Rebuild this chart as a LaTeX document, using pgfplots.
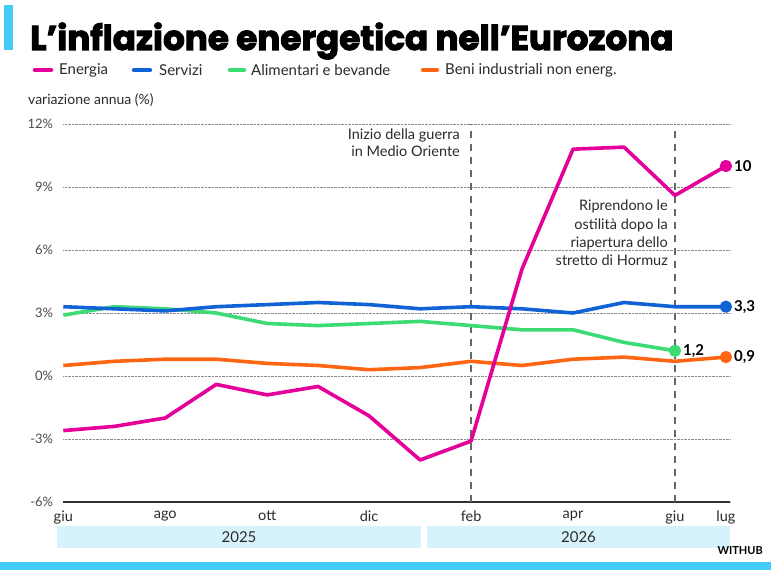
\documentclass[border=0pt]{standalone}
\usepackage{pgfplots}
\pgfplotsset{compat=1.18}
\usepackage{fontspec}
\setmainfont{Lato}
\newfontfamily\titlefont{Poppins}[BoldFeatures={FakeBold=3}]
\definecolor{energia}{HTML}{E5009A}
\definecolor{servizi}{HTML}{1163D5}
\definecolor{alim}{HTML}{3DDB74}
\definecolor{beni}{HTML}{FF6614}
\definecolor{cyanbar}{HTML}{44CBF8}
\definecolor{band}{HTML}{D6F3FC}
\definecolor{dashc}{HTML}{5E6B67}
\definecolor{txt}{HTML}{2B2B2B}
\begin{document}
\begin{tikzpicture}[x=1pt,y=1pt]
\path[use as bounding box, fill=white] (0,0) rectangle (771,582);
\fill[cyanbar] (4,532) rectangle (13,577);
\fill[cyanbar] (0,12) rectangle (771,20);
\node[anchor=base west, inner sep=0pt, font=\titlefont\bfseries\fontsize{34.2}{37}\selectfont] at (30,532) {L’inflazione energetica nell’Eurozona};
% legend
\begin{scope}[line width=4.5pt, line cap=round]
\draw[energia] (35,512) -- (51,512);
\draw[servizi] (134,512) -- (150,512);
\draw[alim] (230,512) -- (244,512);
\draw[beni] (423,512) -- (437,512);
\end{scope}
\begin{scope}[every node/.style={anchor=west, inner sep=0pt, text=txt, font=\fontsize{15}{17}\selectfont}]
\node at (59,512) {Energia};
\node at (159,512) {Servizi};
\node at (251,512) {Alimentari e bevande};
\node at (445,512) {Beni industriali non energ.};
\node[font=\fontsize{14}{16}\selectfont] at (28,482) {variazione annua (\%)};
\end{scope}
\begin{axis}[
  at={(63.3pt,80pt)}, anchor=south west, scale only axis,
  width=666.7pt, height=378pt,
  xmin=0, xmax=13.08, ymin=-6, ymax=12,
  axis line style={draw=none},
  major tick length=0pt,
  xtick={0,2,4,6,8,10,12,13},
  xticklabels={giu,ago,ott,dic,feb,apr,giu,lug},
  ytick={-6,-3,0,3,6,9,12},
  yticklabels={-6\%,-3\%,0\%,3\%,6\%,9\%,12\%},
  ymajorgrids,
  grid style={densely dotted, black!45, line width=0.6pt},
  xticklabel style={anchor=north, inner sep=0pt, yshift=-9pt, text=txt, font=\fontsize{14.5}{16}\selectfont},
  yticklabel style={anchor=east, inner sep=0pt, xshift=-10pt, text=black!70, font=\fontsize{13}{15}\selectfont},
  clip=false,
  every axis plot/.append style={line width=3.6pt, line join=round, mark=*, mark size=4.3pt, mark options={solid}},
]
\draw[black!80, line width=1.3pt] (axis cs:0,-6) -- (axis cs:13.08,-6);
\draw[dashc, line width=1.6pt, dash pattern=on 7pt off 6pt] (axis cs:8,-6) -- (axis cs:8,12);
\draw[dashc, line width=1.6pt, dash pattern=on 7pt off 6pt] (axis cs:12,-6) -- (axis cs:12,12);
\addplot[beni, mark indices={14}] coordinates {(0,0.5)(1,0.7)(2,0.8)(3,0.8)(4,0.6)(5,0.5)(6,0.3)(7,0.4)(8,0.7)(9,0.5)(10,0.8)(11,0.9)(12,0.7)(13,0.9)};
\addplot[alim, mark indices={13}] coordinates {(0,2.9)(1,3.3)(2,3.2)(3,3.0)(4,2.5)(5,2.4)(6,2.5)(7,2.6)(8,2.4)(9,2.2)(10,2.2)(11,1.6)(12,1.2)};
\addplot[servizi, mark indices={14}] coordinates {(0,3.3)(1,3.2)(2,3.1)(3,3.3)(4,3.4)(5,3.5)(6,3.4)(7,3.2)(8,3.3)(9,3.2)(10,3.0)(11,3.5)(12,3.3)(13,3.3)};
\addplot[energia, mark indices={14}] coordinates {(0,-2.6)(1,-2.4)(2,-2.0)(3,-0.4)(4,-0.9)(5,-0.5)(6,-1.9)(7,-4.0)(8,-3.1)(9,5.1)(10,10.8)(11,10.9)(12,8.6)(13,10.0)};
\begin{scope}[every node/.style={anchor=west, inner sep=0pt, text=black, font=\bfseries\fontsize{15}{17}\selectfont}]
\node[xshift=8pt] at (axis cs:13,10) {10};
\node[xshift=8pt] at (axis cs:13,3.3) {3,3};
\node[xshift=8pt] at (axis cs:12,1.2) {1,2};
\node[xshift=8pt] at (axis cs:13,0.9) {0,9};
\end{scope}
\end{axis}
% annotations
\node[anchor=north east, align=right, inner sep=0pt, text=txt, font=\fontsize{14.5}{16.5}\selectfont] at (460,453) {Inizio della guerra\\in Medio Oriente};
\node[anchor=north east, align=right, inner sep=0pt, text=txt, font=\fontsize{14.5}{18.2}\selectfont] at (668,382) {Riprendono le\\ostilità dopo la\\riapertura dello\\stretto di Hormuz};
% year bands
\fill[band] (57,34) rectangle (421,56);
\fill[band] (427,34) rectangle (730,56);
\node[text=txt, font=\fontsize{15}{17}\selectfont] at (239,45) {2025};
\node[text=txt, font=\fontsize{15}{17}\selectfont] at (578.5,45) {2026};
\node[anchor=east, inner sep=0pt, font=\bfseries\fontsize{11}{12}\selectfont] at (763,31) {WITHUB};
\end{tikzpicture}
\end{document}
